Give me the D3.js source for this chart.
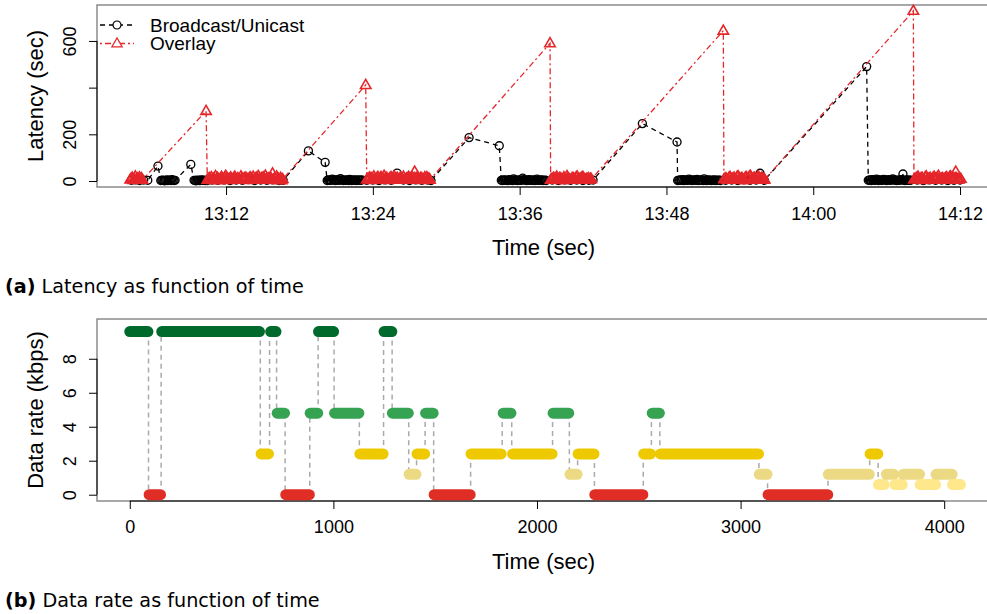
<!doctype html>
<html lang="en">
<head>
<meta charset="UTF-8">
<title>Latency and data rate as function of time</title>
<script src="https://cdn.jsdelivr.net/npm/d3@7"></script>
<style>
    body { margin: 0; background: #fff; }
    svg text { font-family: "Liberation Sans", Arial, Helvetica, sans-serif; }
    svg text.cap { font-family: "DejaVu Sans", sans-serif; }
</style>
</head>
<body>
<svg id="fig" width="987" height="614"></svg>
<script>
// ---------- (a) latency : times are seconds after 13:00:00 ----------
var bcTime = [
    256, 276, 296, 316, 336,
    386,
    400, 405, 410, 415, 420, 425, 430, 435, 440, 445, 450, 455, 460, 465, 470,
    547,
    563, 568, 573, 578, 583, 588, 593, 598, 603, 608, 613, 618, 623, 628,
    650, 680, 710, 740, 770, 800, 830, 860, 890, 920, 950, 980, 1000,
    1124, 1206,
    1216, 1221, 1226, 1231, 1236, 1241, 1246, 1251, 1256, 1261, 1266, 1271, 1276, 1281, 1286, 1291, 1296, 1301,
    1306, 1311, 1316, 1321, 1326, 1331, 1336, 1341, 1346, 1351, 1356, 1361, 1366, 1371, 1376, 1381, 1386,
    1410, 1440, 1470, 1500, 1530, 1559, 1590, 1620, 1650, 1680, 1710, 1725,
    1912, 2060,
    2070, 2075, 2080, 2085, 2090, 2095, 2100, 2105, 2110, 2115, 2120, 2125, 2130, 2135, 2140, 2145, 2150, 2155,
    2160, 2165, 2170, 2175, 2180, 2185, 2190, 2195, 2200, 2205, 2210, 2215, 2220, 2225, 2230, 2235, 2240, 2245,
    2250, 2255, 2260, 2265, 2270, 2275, 2280, 2285, 2290,
    2320, 2350, 2380, 2410, 2440, 2470, 2500, 2520,
    2762, 2932,
    2935, 2940, 2945, 2950, 2955, 2960, 2965, 2970, 2975, 2980, 2985, 2990, 2995, 3000, 3005, 3010, 3015, 3020,
    3025, 3030, 3035, 3040, 3045, 3050, 3055, 3060, 3065, 3070, 3075, 3080, 3085, 3090, 3095, 3100, 3105, 3110,
    3115, 3120, 3125, 3130, 3135, 3140, 3145,
    3170, 3200, 3230, 3260, 3290, 3320, 3339, 3360,
    3862,
    3870, 3875, 3880, 3885, 3890, 3895, 3900, 3905, 3910, 3915, 3920, 3925, 3930, 3935, 3940, 3945, 3950, 3955,
    3960, 3965, 3970, 3975, 3980, 3985, 3990, 3995, 4000, 4005, 4010, 4015, 4020, 4025, 4030, 4035, 4040, 4045,
    4050, 4055, 4060, 4065, 4070, 4075, 4080,
    4110, 4140, 4170, 4200, 4230, 4260, 4290, 4320
];
var bcLatency = [
    3, 5, 2, 4, 3,
    64,
    2, 3, 4, 2, 1, 3, 5, 2, 3, 4, 2, 6, 3, 2, 3,
    71,
    3, 2, 1, 4, 3, 2, 2, 5, 3, 4, 3, 2, 3, 2,
    4, 3, 5, 2, 4, 3, 6, 2, 4, 3, 5, 2, 3,
    129, 80,
    2, 4, 5, 3, 3, 8, 5, 4, 2, 3, 6, 4, 3, 10, 5, 4, 2, 3,
    5, 4, 3, 2, 7, 3, 2, 4, 5, 3, 4, 2, 5, 3, 4, 3, 5,
    3, 4, 2, 5, 3, 34, 4, 2, 5, 3, 4, 2,
    186, 151,
    3, 2, 4, 5, 3, 4, 2, 3, 6, 4, 3, 2, 9, 5, 4, 3, 2, 4,
    5, 3, 3, 12, 6, 4, 4, 2, 3, 6, 5, 3, 3, 4, 5, 2, 3, 8,
    4, 3, 3, 5, 4, 2, 3, 4, 2,
    4, 2, 5, 3, 4, 2, 3, 4,
    246, 167,
    2, 3, 4, 5, 3, 6, 2, 4, 5, 3, 3, 8, 4, 5, 2, 3, 5, 4,
    3, 7, 2, 3, 4, 5, 3, 2, 9, 4, 2, 3, 5, 4, 3, 2, 4, 3,
    5, 2, 3, 4, 3, 4, 2,
    3, 4, 2, 5, 3, 4, 33, 3,
    490,
    3, 4, 5, 2, 6, 4, 4, 3, 8, 5, 2, 4, 5, 3, 3, 7, 6, 4,
    2, 3, 6, 4, 3, 5, 9, 5, 4, 3, 2, 4, 3, 5, 4, 6, 30, 3,
    2, 4, 5, 3, 4, 3, 4,
    4, 2, 5, 3, 4, 2, 3, 4
];
var ovTime = [
    250, 255, 260, 265, 270, 275, 280, 285, 290, 295, 300, 305, 310,
    622,
    628, 633, 638, 643, 648, 653, 658, 663, 668, 673, 678, 683, 688, 693, 698, 703, 708, 713, 718, 723,
    728, 733, 738, 743, 748, 753, 758, 763, 768, 773, 778, 783, 788, 793, 798, 803, 808, 813, 818, 823,
    828, 833, 838, 843, 848, 853, 858, 863, 868, 873, 878, 883, 888, 893, 898, 903, 908, 913, 918, 923,
    928, 933, 938, 943, 948, 953, 958, 963, 968, 973, 978, 983, 988, 993, 998,
    1405,
    1410, 1415, 1420, 1425, 1430, 1435, 1440, 1445, 1450, 1455, 1460, 1465, 1470, 1475, 1480, 1485, 1490, 1495, 1500, 1505,
    1510, 1515, 1520, 1525, 1530, 1535, 1540, 1545, 1550, 1555, 1560, 1565, 1570, 1575, 1580, 1585, 1590, 1595, 1600, 1605,
    1610, 1615, 1620, 1625, 1630, 1635, 1640, 1645, 1650, 1655, 1660, 1665, 1670, 1675, 1680, 1685, 1690, 1695, 1700, 1705,
    1710, 1715, 1720,
    2309,
    2312, 2317, 2322, 2327, 2332, 2337, 2342, 2347, 2352, 2357, 2362, 2367, 2372, 2377, 2382, 2387, 2392, 2397, 2402, 2407,
    2412, 2417, 2422, 2427, 2432, 2437, 2442, 2447, 2452, 2457, 2462, 2467, 2472, 2477, 2482, 2487, 2492, 2497, 2502, 2507,
    2512,
    3159,
    3162, 3167, 3172, 3177, 3182, 3187, 3192, 3197, 3202, 3207, 3212, 3217, 3222, 3227, 3232, 3237, 3242, 3247, 3252, 3257,
    3262, 3267, 3272, 3277, 3282, 3287, 3292, 3297, 3302, 3307, 3312, 3317, 3322, 3327, 3332, 3337, 3342, 3347, 3352, 3357,
    3362,
    4091,
    4094, 4099, 4104, 4109, 4114, 4119, 4124, 4129, 4134, 4139, 4144, 4149, 4154, 4159, 4164, 4169, 4174, 4179, 4184, 4189,
    4194, 4199, 4204, 4209, 4214, 4219, 4224, 4229, 4234, 4239, 4244, 4249, 4254, 4259, 4264, 4269, 4274, 4279, 4284, 4289,
    4294, 4299, 4304, 4309, 4314, 4319, 4324
];
var ovLatency = [
    6, 10, 14, 4, 8, 19, 7, 11, 5, 15, 9, 12, 5,
    300,
    5, 9, 12, 7, 16, 4, 10, 9, 21, 6, 13, 8, 3, 11, 17, 10, 5, 14, 22, 7,
    11, 4, 9, 15, 9, 6, 12, 18, 8, 5, 12, 7, 5, 20, 9, 7, 10, 14, 13, 4,
    9, 6, 16, 11, 8, 18, 5, 10, 14, 7, 21, 9, 6, 12, 12, 15, 8, 23, 10, 6,
    11, 5, 14, 8, 32, 4, 12, 9, 19, 6, 10, 5, 13, 3, 8,
    411,
    6, 9, 10, 15, 4, 12, 8, 19, 7, 5, 12, 17, 5, 9, 17, 11, 9, 22, 6, 14,
    11, 4, 8, 14, 16, 8, 12, 20, 7, 10, 13, 6, 5, 15, 10, 9, 18, 7, 6, 11,
    10, 17, 12, 8, 6, 14, 9, 40, 9, 12, 15, 6, 7, 13, 12, 5, 4, 16, 10, 16,
    8, 11, 5,
    590,
    5, 8, 9, 14, 6, 11, 18, 7, 8, 13, 11, 4, 4, 16, 9, 7, 21, 10, 9, 5,
    5, 12, 13, 8, 8, 15, 19, 6, 6, 11, 10, 17, 15, 7, 5, 9, 7, 12, 6, 10,
    8,
    644,
    7, 10, 12, 6, 5, 14, 17, 8, 9, 11, 14, 5, 6, 18, 20, 9, 8, 12, 11, 4,
    4, 15, 16, 10, 10, 19, 22, 6, 7, 12, 13, 9, 5, 16, 18, 7, 9, 13, 12, 5,
    6,
    729,
    6, 9, 11, 15, 18, 7, 8, 12, 14, 4, 5, 16, 20, 8, 9, 11, 13, 6, 7, 15,
    17, 9, 10, 14, 22, 5, 6, 10, 12, 7, 8, 13, 16, 9, 9, 17, 19, 6, 7, 12,
    9, 40, 11, 7, 6, 10, 9
];
var timeTicks = ['13:12', '13:24', '13:36', '13:48', '14:00', '14:12'];
var latencyTicks = [0, 200, 400, 600];
var latencyTickLabels = ['0', '200', '', '600'];
var seriesNames = ['Broadcast/Unicast', 'Overlay'];

// ---------- (b) data rate : one entry per constant-rate period ----------
var rateStart = [0, 95, 157, 645, 692, 724, 766, 886, 927, 1006, 1130, 1249, 1290, 1372, 1411, 1453, 1495, 1676, 1834,
    1880, 2079, 2162, 2202, 2284, 2524, 2566, 2606, 3092, 3135, 3431, 3636, 3677, 3716, 3758, 3798, 3882, 3960, 4041];
var rateEnd = [89, 151, 637, 681, 718, 760, 882, 923, 1001, 1125, 1244, 1287, 1368, 1406, 1448, 1490, 1672, 1824, 1872,
    2074, 2156, 2197, 2280, 2520, 2558, 2601, 3088, 3130, 3428, 3632, 3674, 3705, 3752, 3794, 3879, 3958, 4039, 4080];
var rateKbps = [9.6, 0, 9.6, 2.4, 9.6, 4.8, 0, 4.8, 9.6, 4.8, 2.4, 9.6, 4.8, 1.2, 2.4, 4.8, 0, 2.4, 4.8,
    2.4, 4.8, 1.2, 2.4, 0, 2.4, 4.8, 2.4, 1.2, 0, 1.2, 2.4, 0.6, 1.2, 0.6, 1.2, 0.6, 1.2, 0.6];
var rateTicks = [0, 2, 4, 6, 8];
var secondTicks = [0, 1000, 2000, 3000, 4000];

// colours
var bcColor = '#000000';
var ovColor = '#e5262b';
var rateColor = { '9.6': '#006a2c', '4.8': '#35a351', '2.4': '#eec900', '1.2': '#ecd983', '0.6': '#fee88b', '0': '#e02e26' };

var svg = d3.select('#fig');
var base = new Date(2000, 0, 1, 13, 0, 0);
function toDate(s) { return new Date(base.getTime() + s * 1000); }
var FONT = '"Liberation Sans", Arial, Helvetica, sans-serif';

function styleAxis(g, size) {
    g.attr('font-family', FONT).attr('font-size', size);
    g.select('.domain').remove();
    g.selectAll('.tick line').attr('stroke', '#000').attr('stroke-width', 1);
    g.selectAll('.tick text').attr('fill', '#000');
}
function rotateYLabels(g) {
    g.selectAll('.tick text')
        .attr('transform', 'rotate(-90)')
        .attr('text-anchor', 'middle')
        .attr('x', 0).attr('y', -21).attr('dy', 0);
}

// ======================= panel (a) =======================
var A = { left: 97, right: 990, top: 5, bottom: 187 };
var x1 = d3.scaleTime().domain([toDate(87), toDate(4467)]).range([A.left, A.right]);
var y1 = d3.scaleLinear().domain([-25.7, 754]).range([A.bottom, A.top]);
var parseHM = d3.timeParse('%H:%M');
var tickDates = timeTicks.map(function (s) {
    var d = parseHM(s);
    return new Date(2000, 0, 1, d.getHours(), d.getMinutes());
});

svg.append('rect')
    .attr('x', A.left).attr('y', A.top)
    .attr('width', A.right - A.left).attr('height', A.bottom - A.top)
    .attr('fill', 'none').attr('stroke', '#7a7a7a').attr('stroke-width', 1.3);

var gx1 = svg.append('g').attr('transform', 'translate(0,' + A.bottom + ')')
    .call(d3.axisBottom(x1).tickValues(tickDates).tickFormat(d3.timeFormat('%H:%M'))
        .tickSize(8).tickPadding(12).tickSizeOuter(0));
styleAxis(gx1, 18);
svg.append('line')
    .attr('x1', x1(tickDates[0])).attr('x2', x1(tickDates[tickDates.length - 1]))
    .attr('y1', A.bottom).attr('y2', A.bottom).attr('stroke', '#000');

var gy1 = svg.append('g').attr('transform', 'translate(' + A.left + ',0)')
    .call(d3.axisLeft(y1).tickValues(latencyTicks)
        .tickFormat(function (d, i) { return latencyTickLabels[i]; })
        .tickSize(8).tickSizeOuter(0));
styleAxis(gy1, 18);
rotateYLabels(gy1);
svg.append('line')
    .attr('x1', A.left).attr('x2', A.left)
    .attr('y1', y1(latencyTicks[0])).attr('y2', y1(latencyTicks[latencyTicks.length - 1]))
    .attr('stroke', '#000');

svg.append('text').attr('x', (A.left + A.right) / 2).attr('y', 255)
    .attr('text-anchor', 'middle').attr('font-size', 22).text('Time (sec)');
svg.append('text').attr('transform', 'translate(43,' + ((A.top + A.bottom) / 2) + ') rotate(-90)')
    .attr('text-anchor', 'middle').attr('font-size', 22).text('Latency (sec)');

var circleMark = d3.symbol().type(d3.symbolCircle).size(Math.PI * 16)();
var triMark = 'M0,-5.6L5.2,3.4L-5.2,3.4Z';

function drawSeries(times, lats, color, dash, mark, markWidth) {
    var line = d3.line()
        .x(function (d, i) { return x1(toDate(times[i])); })
        .y(function (d) { return y1(d); });
    svg.append('path')
        .attr('d', line(lats))
        .attr('fill', 'none').attr('stroke', color)
        .attr('stroke-width', 1.3).attr('stroke-dasharray', dash);
    svg.append('g').selectAll('path').data(lats).enter().append('path')
        .attr('transform', function (d, i) { return 'translate(' + x1(toDate(times[i])) + ',' + y1(d) + ')'; })
        .attr('d', mark)
        .attr('fill', 'none').attr('stroke', color).attr('stroke-width', markWidth);
}
drawSeries(bcTime, bcLatency, bcColor, '5,4', circleMark, 1.35);
drawSeries(ovTime, ovLatency, ovColor, '2,3,6,3', triMark, 1.6);

// legend
var legend = [
    { name: seriesNames[0], color: bcColor, dash: '5,4', mark: circleMark, y: 25 },
    { name: seriesNames[1], color: ovColor, dash: '2,3,6,3', mark: triMark, y: 43.5 }
];
legend.forEach(function (d) {
    svg.append('line').attr('x1', 100).attr('x2', 134).attr('y1', d.y).attr('y2', d.y)
        .attr('stroke', d.color).attr('stroke-width', 1.3).attr('stroke-dasharray', d.dash);
    svg.append('path').attr('transform', 'translate(117,' + d.y + ')').attr('d', d.mark)
        .attr('fill', '#fff').attr('stroke', d.color).attr('stroke-width', 1.2);
    svg.append('text').attr('x', 150).attr('y', d.y + 6.8).attr('font-size', 19).text(d.name);
});

var capA = svg.append('text').attr('class', 'cap').attr('x', 5).attr('y', 293).attr('font-size', 19.2);
capA.append('tspan').attr('font-weight', 'bold').text('(a)');
capA.append('tspan').text(' Latency as function of time');

// ======================= panel (b) =======================
var B = { left: 97, right: 990, top: 319, bottom: 501 };
var x2 = d3.scaleLinear().domain([-161, 4225]).range([B.left, B.right]);
var y2 = d3.scaleLinear().domain([-0.37, 10.34]).range([B.bottom, B.top]);

svg.append('rect')
    .attr('x', B.left).attr('y', B.top)
    .attr('width', B.right - B.left).attr('height', B.bottom - B.top)
    .attr('fill', 'none').attr('stroke', '#7a7a7a').attr('stroke-width', 1.3);

var gx2 = svg.append('g').attr('transform', 'translate(0,' + B.bottom + ')')
    .call(d3.axisBottom(x2).tickValues(secondTicks).tickFormat(d3.format('d'))
        .tickSize(8).tickPadding(11).tickSizeOuter(0));
styleAxis(gx2, 18);
svg.append('line')
    .attr('x1', x2(secondTicks[0])).attr('x2', x2(secondTicks[secondTicks.length - 1]))
    .attr('y1', B.bottom).attr('y2', B.bottom).attr('stroke', '#000');

var gy2 = svg.append('g').attr('transform', 'translate(' + B.left + ',0)')
    .call(d3.axisLeft(y2).tickValues(rateTicks).tickSize(8).tickSizeOuter(0));
styleAxis(gy2, 18);
rotateYLabels(gy2);
svg.append('line')
    .attr('x1', B.left).attr('x2', B.left)
    .attr('y1', y2(rateTicks[0])).attr('y2', y2(rateTicks[rateTicks.length - 1]))
    .attr('stroke', '#000');

svg.append('text').attr('x', (B.left + B.right) / 2).attr('y', 569)
    .attr('text-anchor', 'middle').attr('font-size', 22).text('Time (sec)');
svg.append('text').attr('transform', 'translate(43,' + ((B.top + B.bottom) / 2) + ') rotate(-90)')
    .attr('text-anchor', 'middle').attr('font-size', 22).text('Data rate (kbps)');

// grey dashed steps between consecutive periods
var steps = d3.range(rateKbps.length - 1);
svg.append('g').selectAll('line').data(steps).enter().append('line')
    .attr('x1', function (i) { return x2((rateEnd[i] + rateStart[i + 1]) / 2); })
    .attr('x2', function (i) { return x2((rateEnd[i] + rateStart[i + 1]) / 2); })
    .attr('y1', function (i) { return y2(rateKbps[i]); })
    .attr('y2', function (i) { return y2(rateKbps[i + 1]); })
    .attr('stroke', '#aaaaaa').attr('stroke-width', 1.5).attr('stroke-dasharray', '5,4');

// rate periods as thick round-capped bars
svg.append('g').selectAll('line').data(rateKbps).enter().append('line')
    .attr('x1', function (d, i) { return x2(rateStart[i]); })
    .attr('x2', function (d, i) { return x2(rateEnd[i]); })
    .attr('y1', function (d) { return y2(d); })
    .attr('y2', function (d) { return y2(d); })
    .attr('stroke', function (d) { return rateColor[String(d)]; })
    .attr('stroke-width', 11).attr('stroke-linecap', 'round');

var capB = svg.append('text').attr('class', 'cap').attr('x', 5).attr('y', 607).attr('font-size', 19.2);
capB.append('tspan').attr('font-weight', 'bold').text('(b)');
capB.append('tspan').text(' Data rate as function of time');
</script>
</body>
</html>
